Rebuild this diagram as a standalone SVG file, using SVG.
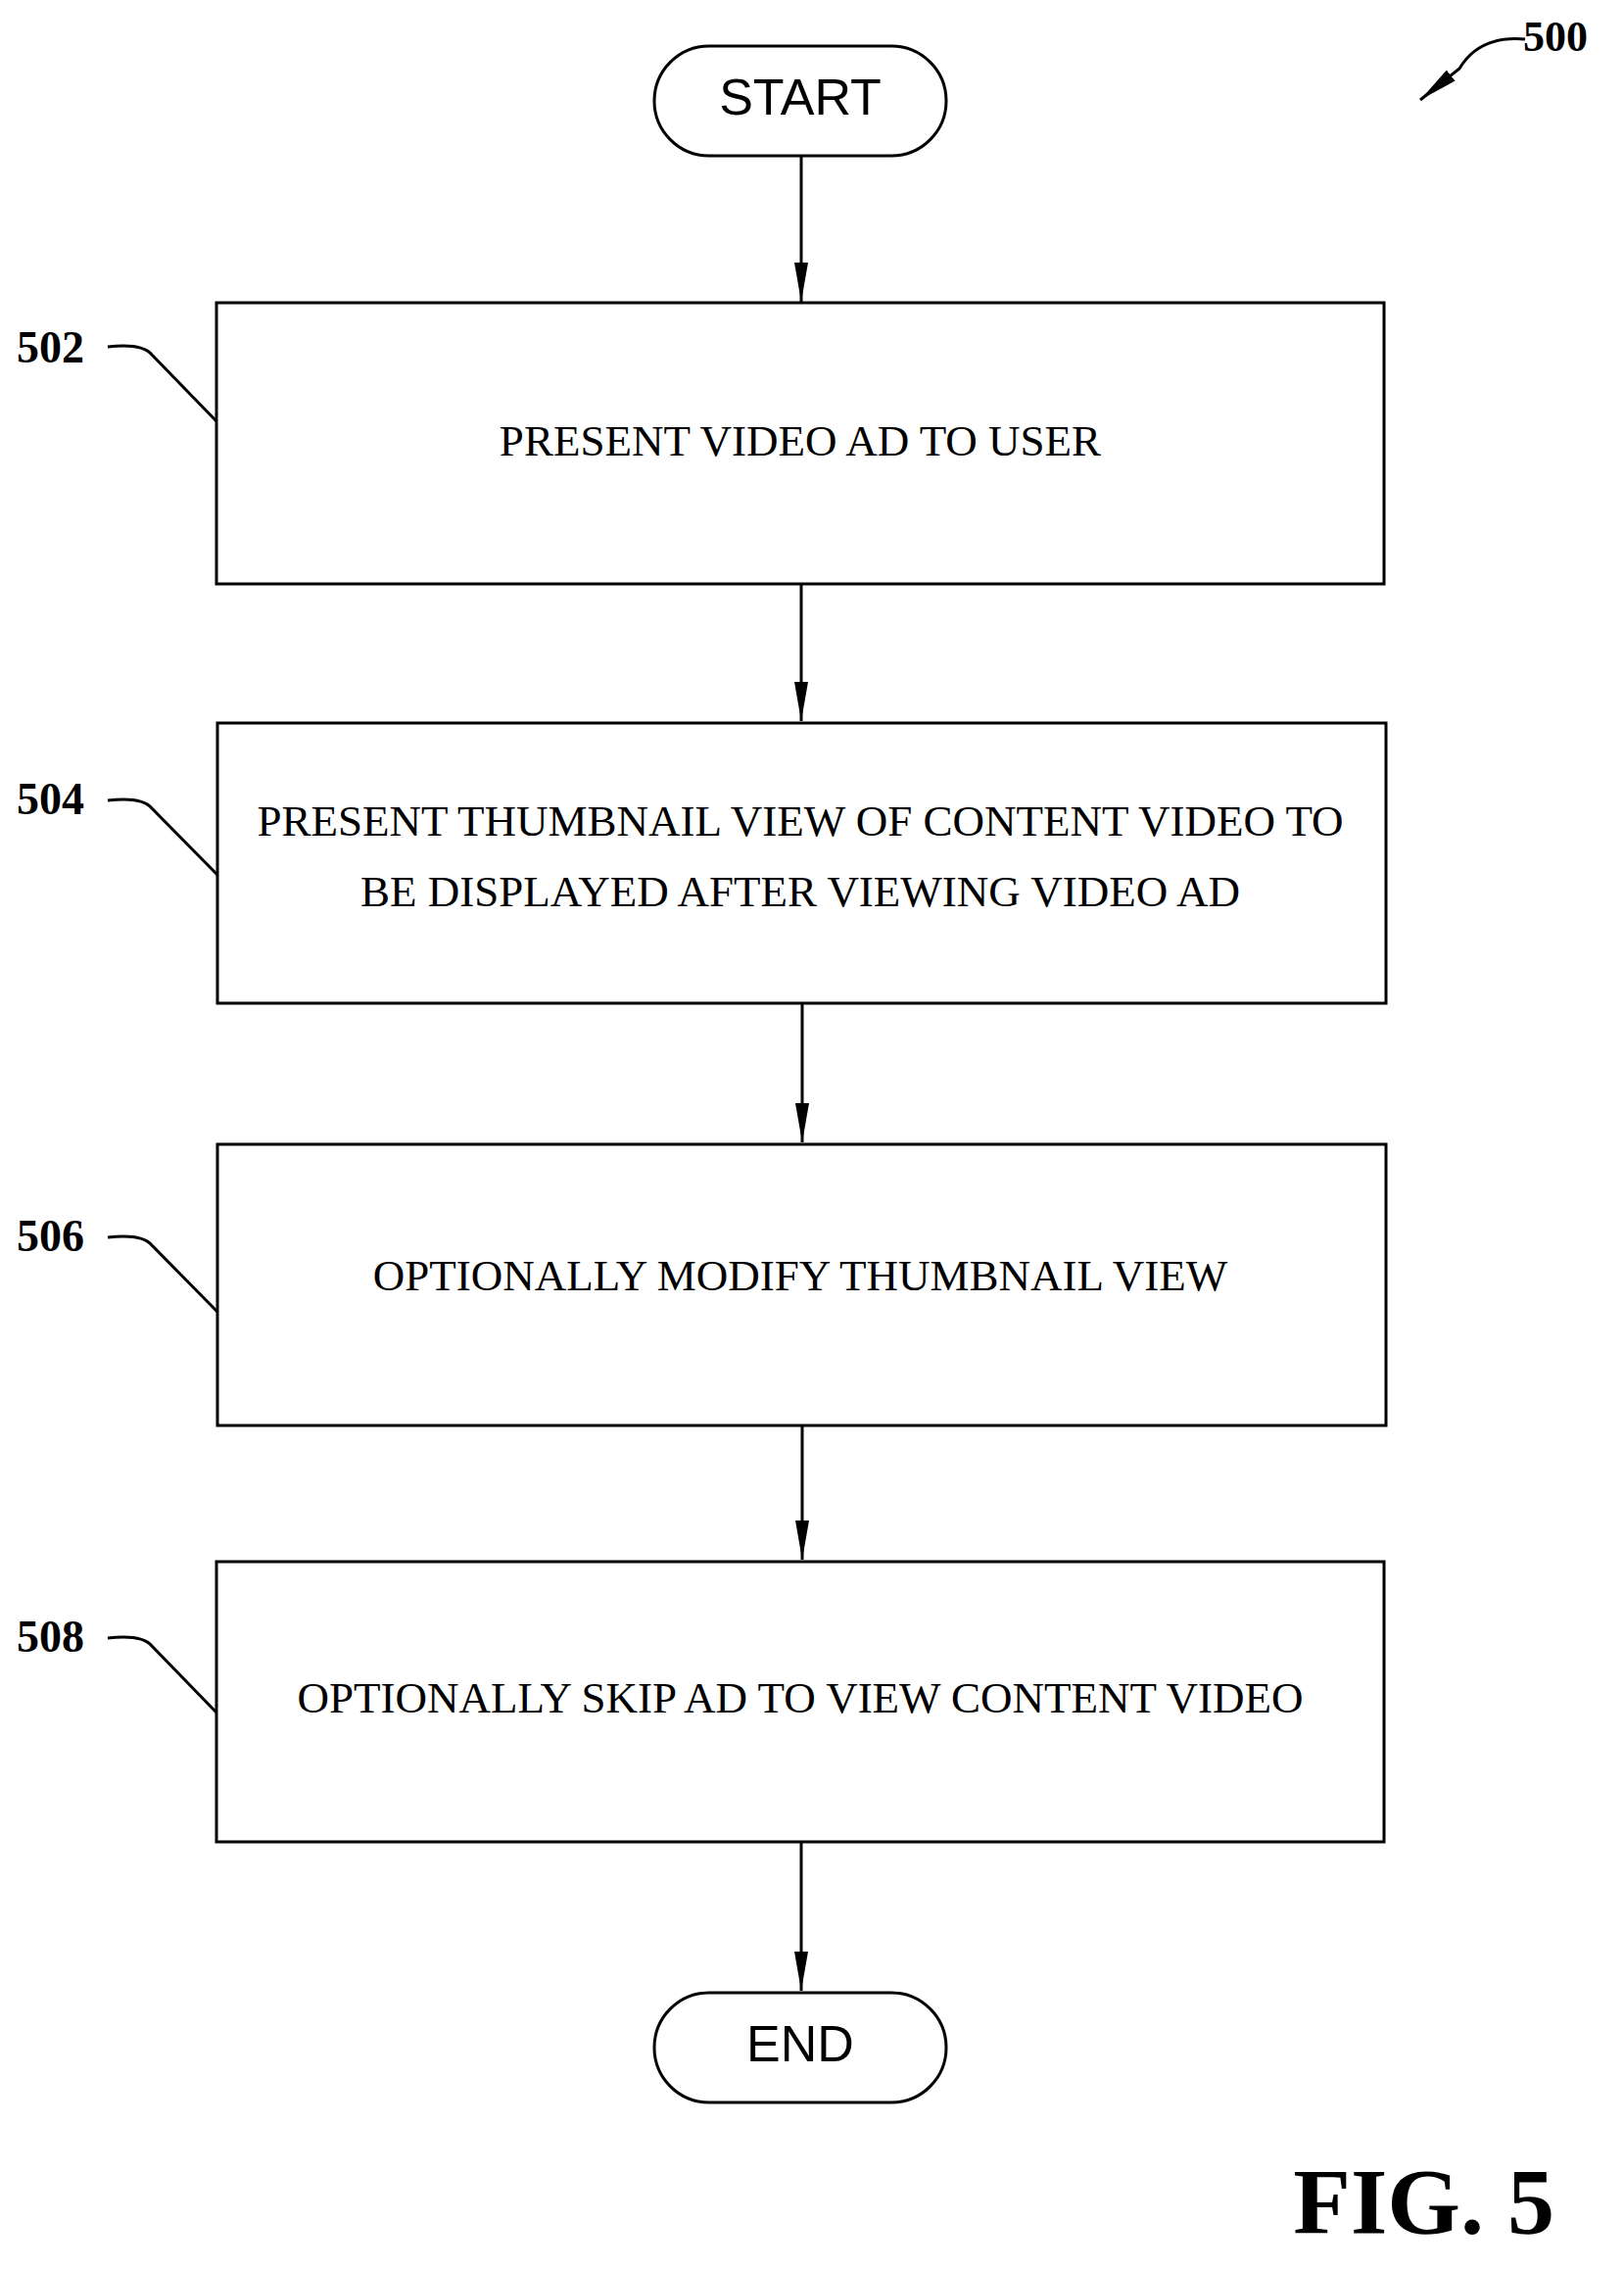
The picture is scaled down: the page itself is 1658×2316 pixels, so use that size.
<svg xmlns="http://www.w3.org/2000/svg" width="1658" height="2316" viewBox="0 0 1658 2316">
<style>
.box{fill:#fff;stroke:#000;stroke-width:3}
.t{font-family:"Liberation Serif",serif;font-size:45px;text-anchor:middle;dominant-baseline:middle}
.s{font-family:"Liberation Sans",sans-serif;font-size:52px;text-anchor:middle;dominant-baseline:middle}
.n{font-family:"Liberation Serif",serif;font-size:46px;font-weight:bold}
.c{fill:none;stroke:#000;stroke-width:3}
</style>
<defs><marker id="a" markerWidth="40" markerHeight="14" refX="40" refY="7" orient="auto" markerUnits="userSpaceOnUse" viewBox="0 0 40 14"><path d="M0,0 L40,7 L0,14 Z"/></marker></defs>
<g id="connectors">
<line class="c" x1="818" y1="160" x2="818" y2="308" marker-end="url(#a)"/>
<line class="c" x1="818" y1="595" x2="818" y2="736" marker-end="url(#a)"/>
<line class="c" x1="819" y1="1024" x2="819" y2="1166" marker-end="url(#a)"/>
<line class="c" x1="819" y1="1455" x2="819" y2="1592" marker-end="url(#a)"/>
<line class="c" x1="818" y1="1880" x2="818" y2="2032" marker-end="url(#a)"/>
<path class="c" d="M110,354 Q145,350 155,362 L221,430"/>
<path class="c" d="M110,817 Q145,813 155,825 L222,893"/>
<path class="c" d="M110,1263 Q145,1259 155,1271 L222,1339"/>
<path class="c" d="M110,1672 Q145,1668 155,1680 L221,1748"/>
<path class="c" d="M1557,40 Q1510,36 1490,70 L1450,102" marker-end="url(#a)"/>
</g>
<g id="start"><rect class="box" x="668" y="47" width="298" height="112" rx="56"/><text class="s" x="817" y="103">START</text></g>
<g id="n502"><rect class="box" x="221" y="309" width="1192" height="287"/><text class="t" x="817" y="455">PRESENT VIDEO AD TO USER</text><text class="n" x="17" y="370">502</text></g>
<g id="n504"><rect class="box" x="222" y="738" width="1193" height="286"/><text class="t" x="817" y="843">PRESENT THUMBNAIL VIEW OF CONTENT VIDEO TO</text><text class="t" x="817" y="915">BE DISPLAYED AFTER VIEWING VIDEO AD</text><text class="n" x="17" y="831">504</text></g>
<g id="n506"><rect class="box" x="222" y="1168" width="1193" height="287"/><text class="t" x="817" y="1307">OPTIONALLY MODIFY THUMBNAIL VIEW</text><text class="n" x="17" y="1277">506</text></g>
<g id="n508"><rect class="box" x="221" y="1594" width="1192" height="286"/><text class="t" x="817" y="1738">OPTIONALLY SKIP AD TO VIEW CONTENT VIDEO</text><text class="n" x="17" y="1686">508</text></g>
<g id="end"><rect class="box" x="668" y="2034" width="298" height="112" rx="56"/><text class="s" x="817" y="2090">END</text></g>
<text class="n" x="1555" y="52" style="font-size:44px">500</text>
<text x="1587" y="2280" style="font-family:'Liberation Serif',serif;font-size:96px;font-weight:bold;text-anchor:end">FIG. 5</text>
</svg>
